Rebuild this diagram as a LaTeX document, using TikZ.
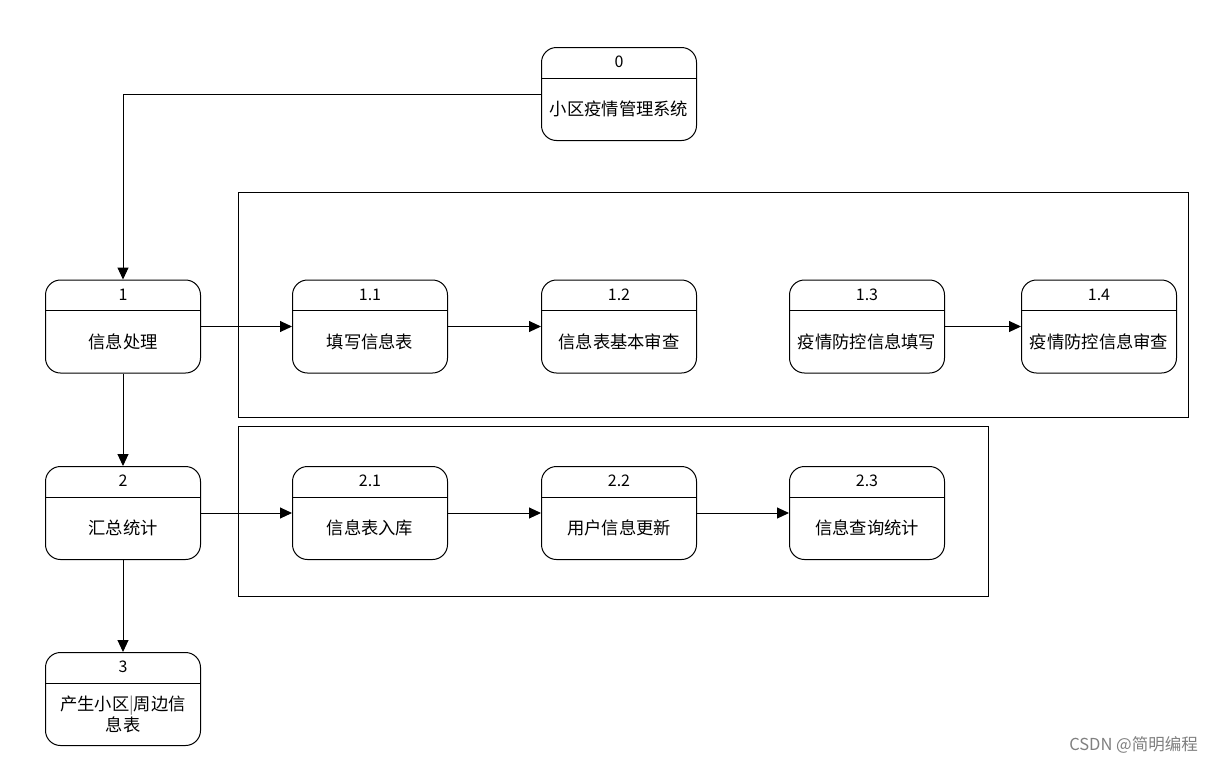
\documentclass[tikz,border=0pt]{standalone}
\usepackage{fontspec}
\setmainfont{Noto Sans CJK SC}
\usetikzlibrary{arrows.meta}
\tikzset{
  procbox/.style={draw, line width=1pt, rounded corners=15pt, minimum width=155pt, minimum height=93pt, inner sep=0pt, anchor=north west},
  numtxt/.style={font=\fontsize{16}{18}\selectfont, inner sep=0pt},
  maintxt/.style={font=\fontsize{17.3}{21}\selectfont, inner sep=0pt, align=center},
  conn/.style={line width=1pt, -{Triangle[length=12pt,width=11pt]}},
  frame/.style={draw, line width=1pt}
}
\newcommand\mkproc[5]{%
  \node[procbox] (#1) at (#2,#3) {};
  \draw[line width=1pt] ([yshift=-31pt]#1.north west) -- ([yshift=-31pt]#1.north east);
  \node[numtxt] (#1n) at ([yshift=-15pt]#1.north) {#4};
  \node[maintxt] (#1t) at ([yshift=32pt]#1.south) {#5};
}
\begin{document}
\begin{tikzpicture}[x=1pt,y=-1pt]
\useasboundingbox[fill=white] (0,0) rectangle (1214,763);
% frames
\draw[frame] (238,192) rectangle (1188,417.5);
\draw[frame] (238,426) rectangle (988,596);
% boxes
\mkproc{b0}{541}{47}{0}{小区疫情管理系统}
\mkproc{b1}{45}{279.5}{1}{信息处理}
\mkproc{b11}{292}{279.5}{1.1}{填写信息表}
\mkproc{b12}{541}{279.5}{1.2}{信息表基本审查}
\mkproc{b13}{789}{279.5}{1.3}{疫情防控信息填写}
\mkproc{b14}{1021}{279.5}{1.4}{疫情防控信息审查}
\mkproc{b2}{45}{466}{2}{汇总统计}
\mkproc{b21}{292}{466}{2.1}{信息表入库}
\mkproc{b22}{541}{466}{2.2}{用户信息更新}
\mkproc{b23}{789}{466}{2.3}{信息查询统计}
\mkproc{b3}{45}{652}{3}{产生小区{\color{gray}|}周边信\\息表}
% connectors
\draw[conn] (b0.west) -| (b1.north);
\draw[conn] (b1.east) -- (b11.west);
\draw[conn] (b11.east) -- (b12.west);
\draw[conn] (b13.east) -- (b14.west);
\draw[conn] (b1.south) -- (b2.north);
\draw[conn] (b2.east) -- (b21.west);
\draw[conn] (b21.east) -- (b22.west);
\draw[conn] (b22.east) -- (b23.west);
\draw[conn] (b2.south) -- (b3.north);
% watermark
\node[anchor=east, text=gray, font=\fontsize{16.5}{19}\selectfont, inner sep=0pt] (wm) at (1198,745) {CSDN @简明编程};
\end{tikzpicture}
\end{document}
